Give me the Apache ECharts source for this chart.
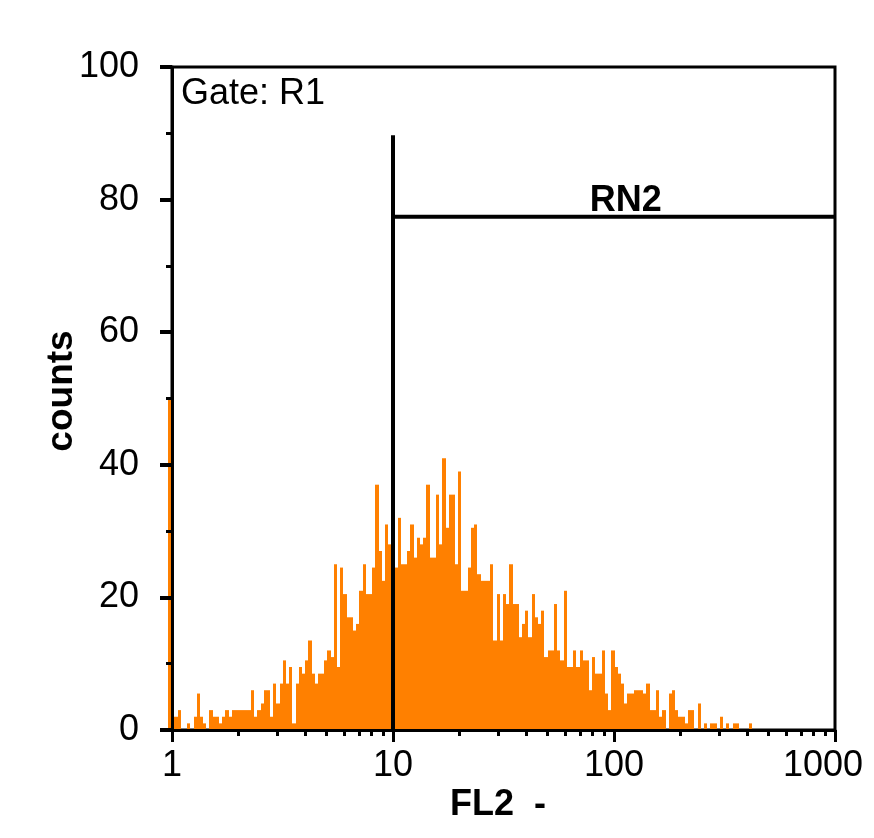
<!DOCTYPE html>
<html><head><meta charset="utf-8">
<script src="https://cdn.jsdelivr.net/npm/echarts@6/dist/echarts.min.js"></script>
<style>html,body{margin:0;padding:0;background:#fff}#c{width:874px;height:838px}</style>
</head><body><div id="c"></div>
<script>
// Histogram counts per channel (channel 0 is the off-scale pile-up bar left of 1)
const channelCounts = [
  50, 0, 2, 3, 0, 0, 1, 0, 2, 5.5,
  2, 1, 0, 3, 2, 2, 1, 2, 3, 2,
  3, 3, 3, 3, 3, 3, 6, 2, 3, 4,
  6, 6, 2, 7, 4, 7, 10.5, 7, 9.5, 1,
  7, 9.5, 8.5, 10.5, 13.5, 8.5, 7, 8.5, 8.5, 10.5,
  12, 11, 25, 9.5, 24.5, 20.5, 17, 17, 15, 16,
  21, 25, 20.5, 20.5, 24.5, 37, 27, 22.5, 31, 28,
  27, 24.5, 32, 25, 25, 27, 31, 26, 29, 28,
  29, 37, 26, 26, 35.5, 28, 41, 30.5, 35.5, 35.5,
  25, 39, 21, 21, 24.5, 30.5, 31, 23.5, 22.5, 22.5,
  22.5, 25, 13.5, 20.5, 13.5, 20.5, 19, 25, 19, 19,
  14, 16, 18, 14, 20.5, 17, 16, 18, 11, 12,
  12, 19, 12, 10.5, 21, 9.5, 9.5, 12, 9.5, 12,
  10.5, 10.5, 6, 11, 8.5, 8.5, 12, 5.5, 3, 12,
  9.5, 8.5, 7, 4, 5.5, 5.5, 6, 6, 6, 5.5,
  7, 3, 3, 6, 2, 3, 0, 5.5, 6, 3,
  2, 2, 1, 3, 3, 0, 4, 0, 1, 0,
  1, 1, 0, 2, 0, 1, 0, 1, 1, 0,
  0, 0, 1
];
const channelsPerDecade = 69.28;
const firstChannelOffset = 1.254;

const xTickLabels = [1, 10, 100, 1000];
const xMinorTickValues = [2,3,4,5,6,7,8,9,20,30,40,50,60,70,80,90,200,300,400,500,600,700,800,900];
const yTickLabels = [0, 20, 40, 60, 80, 100];

const gateName = 'Gate: R1';
const markerName = 'RN2';
const markerStart = 10;
const markerLineTop = 89.7;
const markerLevel = 77.4;
const markerEnd = 1000;
const markerLabelAt = 113;

const xName = 'FL2  -';
const yName = 'counts';

const FONT = '"Liberation Sans", Arial, sans-serif';
const ORANGE = '#ff8000';

function channelEdge(k) { return Math.pow(10, (k - firstChannelOffset) / channelsPerDecade); }
const histData = channelCounts.map((c, k) => [channelEdge(k), channelEdge(k + 1), c]);
const minorTickPos = xMinorTickValues.map(v => Math.log10(v));

const chart = echarts.init(document.getElementById('c'), null, {renderer: 'canvas'});
chart.setOption({
  animation: false,
  backgroundColor: '#fff',
  grid: {left: 172, top: 67, right: 39, bottom: 108, show: true, borderColor: '#000', borderWidth: 3, backgroundColor: 'transparent'},
  xAxis: [{
    type: 'log', logBase: 10, min: xTickLabels[0], max: xTickLabels[xTickLabels.length - 1],
    position: 'bottom', z: 5,
    axisLine: {show: true, lineStyle: {color: '#000', width: 3}},
    axisTick: {show: true, length: 12, lineStyle: {color: '#000', width: 3}},
    minorTick: {show: false},
    splitLine: {show: false},
    axisLabel: {
      margin: 18, color: '#000', fontFamily: FONT, fontSize: 36,
      formatter: v => (v === 1000 ? '{last|' + v + '}' : String(v)),
      rich: {last: {padding: [0, 24, 0, 0], fontFamily: FONT, fontSize: 36, color: '#000'}}
    }
  }, {
    type: 'value', min: 0, max: 3, position: 'bottom', z: 5,
    axisLine: {show: false},
    axisTick: {show: true, length: 6, customValues: minorTickPos, lineStyle: {color: '#000', width: 3}},
    axisLabel: {show: false},
    splitLine: {show: false}
  }],
  yAxis: {
    type: 'value', min: yTickLabels[0], max: yTickLabels[yTickLabels.length - 1], interval: 20, z: 5,
    axisLine: {show: true, lineStyle: {color: '#000', width: 3}},
    axisTick: {show: true, length: 12, lineStyle: {color: '#000', width: 4}},
    minorTick: {show: true, splitNumber: 2, length: 6, lineStyle: {color: '#000', width: 3}},
    splitLine: {show: false},
    axisLabel: {margin: 33, color: '#000', fontFamily: FONT, fontSize: 36}
  },
  series: [{
    type: 'custom',
    xAxisIndex: 0,
    clip: false,
    encode: {x: [0, 1], y: 2},
    data: histData,
    renderItem: function (params, api) {
      const p0 = api.coord([api.value(0), 0]);
      const p1 = api.coord([api.value(1), api.value(2)]);
      const x0 = Math.round(p0[0]), x1 = Math.round(p1[0]);
      return {type: 'rect', shape: {x: x0, y: p1[1], width: x1 - x0, height: p0[1] - p1[1]}, style: {fill: ORANGE}};
    },
    z: 2
  }, {
    type: 'line', xAxisIndex: 0, symbol: 'none', z: 4,
    lineStyle: {color: '#000', width: 4},
    data: [[markerStart, 0], [markerStart, markerLineTop]]
  }, {
    type: 'line', xAxisIndex: 0, symbol: 'none', z: 4,
    lineStyle: {color: '#000', width: 4},
    data: [[markerStart, markerLevel], [markerEnd, markerLevel]]
  }, {
    type: 'scatter', xAxisIndex: 0, symbolSize: 0, z: 4,
    itemStyle: {opacity: 1},
    data: [[markerLabelAt, markerLevel]],
    label: {show: true, position: 'top', distance: -2, opacity: 1, formatter: markerName, color: '#000', fontFamily: FONT, fontSize: 36, fontWeight: 'bold'}
  }],
  graphic: [
    {type: 'text', x: 181, y: 94, style: {text: gateName, font: '36px ' + FONT, fill: '#000', verticalAlign: 'middle'}},
    {type: 'text', x: 62, y: 391, rotation: Math.PI / 2, style: {text: yName, font: 'bold 37px ' + FONT, fill: '#000', align: 'center', verticalAlign: 'middle'}},
    {type: 'text', x: 450, y: 805, style: {text: xName, font: 'bold 36px ' + FONT, fill: '#000', align: 'left', verticalAlign: 'middle'}}
  ]
});
</script>
</body></html>
